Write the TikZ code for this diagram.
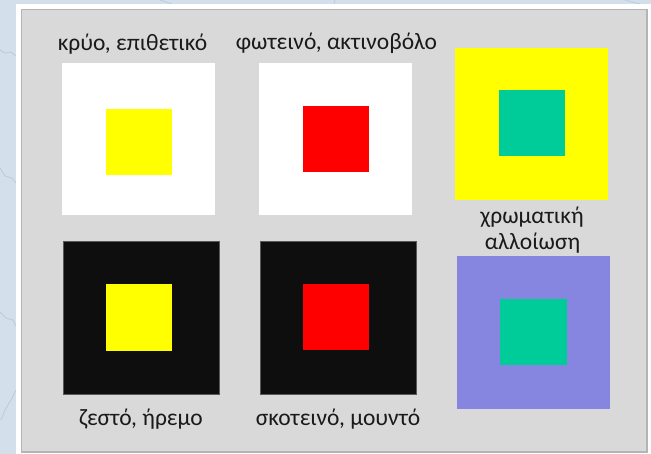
\documentclass[tikz,border=0pt]{standalone}
\usepackage{fontspec}
\setmainfont{Carlito}
\definecolor{bgblue}{HTML}{D3DFEA}
\definecolor{bgline}{HTML}{B9CCE0}
\definecolor{panel}{HTML}{D9D9D9}
\definecolor{paneledge}{HTML}{B4B4B4}
\definecolor{ink}{HTML}{1A1A1A}
\definecolor{nearblack}{HTML}{0E0E0E}
\definecolor{teal}{HTML}{00CC99}
\definecolor{lilac}{HTML}{8686E0}
\definecolor{pureyellow}{HTML}{FFFF00}
\definecolor{purered}{HTML}{FF0000}
\tikzset{
  sq/.style={inner sep=0pt, outer sep=0pt, draw=none},
  lbl/.style={inner sep=0pt, anchor=base, text=ink, font=\fontsize{23.5}{26}\selectfont},
}
\begin{document}
\begin{tikzpicture}[x=1pt,y=-1pt]
\useasboundingbox (0,0) rectangle (651,454);
\fill[bgblue] (0,0) rectangle (651,454);
% faint background map lines
\draw[bgline, line width=0.8pt] (0,50) -- (5,53) -- (11,52) -- (16,56);
\draw[bgline, line width=0.8pt] (0,168) -- (5,176) -- (12,178) -- (16,183);
\draw[bgline, line width=0.8pt] (0,312) -- (6,318) -- (13,320) -- (16,326);
\draw[bgline, line width=0.8pt] (16,390) -- (12,398) -- (5,410) -- (1,420);
\draw[bgline, line width=0.8pt] (160,0) -- (166,2) -- (172,4);
\draw[bgline, line width=0.8pt] (335,0) -- (334,4);
\draw[bgline, line width=0.8pt] (625,0) -- (632,2) -- (640,4);
% white frame and gray panel
\fill[white] (16,4) rectangle (651,454);
\fill[panel, draw=paneledge, line width=1.5pt] (21.5,9.5) rectangle (647,452);
% squares
\node[sq, fill=white, minimum width=153pt, minimum height=152pt] (w1) at (138.5,139) {};
\node[sq, fill=pureyellow, minimum width=66pt, minimum height=66pt] (y1) at (139,142) {};
\node[sq, fill=white, minimum width=153pt, minimum height=152pt] (w2) at (335.5,139) {};
\node[sq, fill=purered, minimum width=66pt, minimum height=66pt] (r1) at (336,139) {};
\node[sq, fill=pureyellow, minimum width=153pt, minimum height=152pt] (y2) at (531.5,124) {};
\node[sq, fill=teal, minimum width=66pt, minimum height=66pt] (t1) at (532,123) {};
\node[sq, fill=nearblack, draw=gray!70!black, line width=0.6pt, minimum width=156pt, minimum height=153pt] (b1) at (141,317.5) {};
\node[sq, fill=pureyellow, minimum width=66pt, minimum height=67pt] (y3) at (139,317.5) {};
\node[sq, fill=nearblack, draw=gray!70!black, line width=0.6pt, minimum width=156pt, minimum height=153pt] (b2) at (338,317.5) {};
\node[sq, fill=purered, minimum width=66pt, minimum height=66pt] (r2) at (336,317) {};
\node[sq, fill=lilac, minimum width=153pt, minimum height=153pt] (l1) at (533.5,332.5) {};
\node[sq, fill=teal, minimum width=67pt, minimum height=66pt] (t2) at (533.5,332) {};
% labels
\node[lbl] (a) at (132.5,51) {κρύο, επιθετικό};
\node[lbl] (b) at (336.5,50) {φωτεινό, ακτινοβόλο};
\node[lbl] (c) at (532,224) {χρωματική};
\node[lbl] (d) at (532.5,250) {αλλοίωση};
\node[lbl] (e) at (141,425) {ζεστό, ήρεμο};
\node[lbl] (f) at (338,425) {σκοτεινό, μουντό};
\end{tikzpicture}
\end{document}
